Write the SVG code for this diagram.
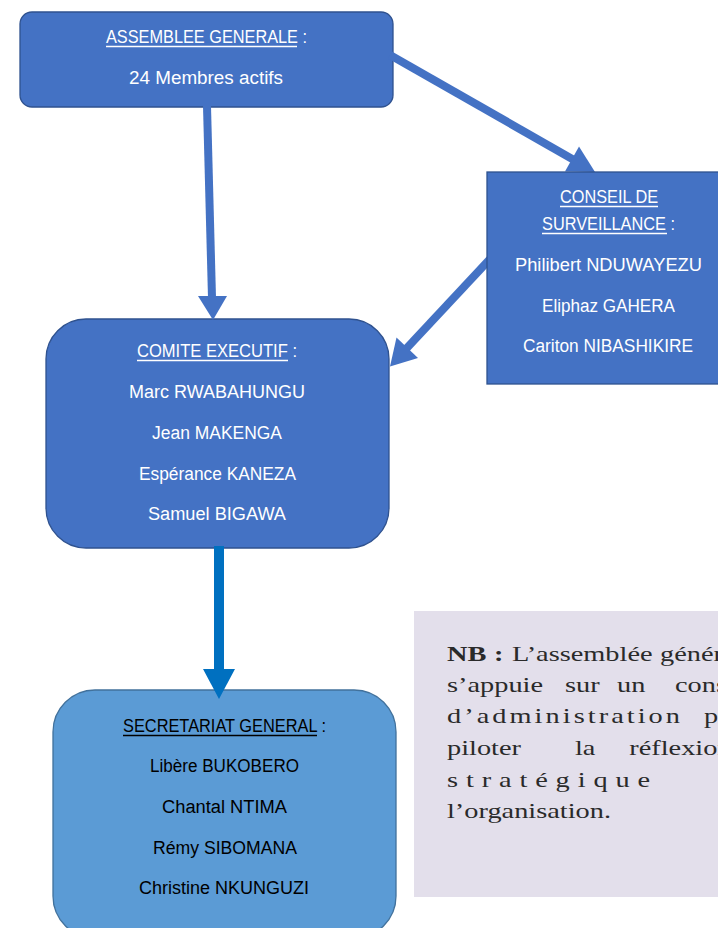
<svg xmlns="http://www.w3.org/2000/svg" width="718" height="928" viewBox="0 0 718 928">
<style>
.box{fill:#4472C4;stroke:#2F528F;stroke-width:1.3}
.box2{fill:#5B9BD5;stroke:#41719C;stroke-width:1.3}
.t{font-family:"Liberation Sans",Arial,sans-serif;font-size:18px;text-anchor:middle;fill:#ffffff}
.tb{font-family:"Liberation Sans",Arial,sans-serif;font-size:18px;text-anchor:middle;fill:#000000}
.uw{stroke:#ffffff;stroke-width:1.3}
.ub{stroke:#000000;stroke-width:1.3}
.ln{stroke:#4472C4;stroke-width:8;fill:none}
.hd{fill:#4472C4}
.nb{font-family:"Liberation Serif","Times New Roman",serif;font-size:21px;fill:#2a2a2a}
</style>
<rect width="718" height="928" fill="#ffffff"/>
<g id="assemblee">
<rect class="box" x="20" y="12" width="373" height="95" rx="12"/>
<text class="t" x="206.5" y="43" textLength="201" lengthAdjust="spacingAndGlyphs">ASSEMBLEE GENERALE :</text>
<line class="uw" x1="106" y1="46.5" x2="297" y2="46.5"/>
<text class="t" x="206" y="84" textLength="154" lengthAdjust="spacingAndGlyphs">24 Membres actifs</text>
</g>
<g id="comite">
<rect class="box" x="46" y="319" width="343" height="229" rx="40"/>
<text class="t" x="217" y="357" textLength="160" lengthAdjust="spacingAndGlyphs">COMITE EXECUTIF :</text>
<line class="uw" x1="137" y1="360.5" x2="288" y2="360.5"/>
<text class="t" x="217" y="398" textLength="176" lengthAdjust="spacingAndGlyphs">Marc RWABAHUNGU</text>
<text class="t" x="217" y="439" textLength="130" lengthAdjust="spacingAndGlyphs">Jean MAKENGA</text>
<text class="t" x="217.5" y="480" textLength="157" lengthAdjust="spacingAndGlyphs">Espérance KANEZA</text>
<text class="t" x="217" y="520" textLength="138" lengthAdjust="spacingAndGlyphs">Samuel BIGAWA</text>
</g>
<g id="secretariat">
<rect class="box2" x="53" y="690" width="343" height="248" rx="42"/>
<text class="tb" x="224.5" y="732" textLength="203" lengthAdjust="spacingAndGlyphs">SECRETARIAT GENERAL :</text>
<line class="ub" x1="123" y1="735.5" x2="317" y2="735.5"/>
<text class="tb" x="224.5" y="772" textLength="149" lengthAdjust="spacingAndGlyphs">Libère BUKOBERO</text>
<text class="tb" x="224.5" y="813" textLength="125" lengthAdjust="spacingAndGlyphs">Chantal NTIMA</text>
<text class="tb" x="225" y="854" textLength="144" lengthAdjust="spacingAndGlyphs">Rémy SIBOMANA</text>
<text class="tb" x="224" y="894" textLength="170" lengthAdjust="spacingAndGlyphs">Christine NKUNGUZI</text>
</g>
<g id="connectors">
<line class="ln" x1="207" y1="106" x2="212" y2="298"/>
<polygon class="hd" points="198,296 227,296 213,320"/>
<line class="ln" x1="390" y1="55" x2="574" y2="160"/>
<polygon class="hd" points="579,146.5 565,171.5 595,172"/>
<line class="ln" x1="490" y1="259" x2="405" y2="350"/>
<polygon class="hd" points="418,358 396.5,337.5 390,366.5"/>
<rect x="214" y="546" width="10" height="125" fill="#0070C0"/>
<polygon points="203,669 235,669 219,699" fill="#0070C0"/>
</g>
<g id="conseil">
<rect class="box" x="487" y="172" width="250" height="212"/>
<text class="t" x="609" y="203" textLength="98" lengthAdjust="spacingAndGlyphs">CONSEIL DE</text>
<line class="uw" x1="560" y1="206.5" x2="658" y2="206.5"/>
<text class="t" x="608.5" y="230" textLength="133" lengthAdjust="spacingAndGlyphs">SURVEILLANCE :</text>
<line class="uw" x1="542" y1="233.5" x2="667" y2="233.5"/>
<text class="t" x="608.5" y="271" textLength="187" lengthAdjust="spacingAndGlyphs">Philibert NDUWAYEZU</text>
<text class="t" x="608.5" y="312" textLength="133" lengthAdjust="spacingAndGlyphs">Eliphaz GAHERA</text>
<text class="t" x="608" y="352" textLength="170" lengthAdjust="spacingAndGlyphs">Cariton NIBASHIKIRE</text>
</g>
<g id="nb">
<rect x="414" y="611" width="320" height="286" fill="#E3DFEB"/>
<g transform="translate(447 0) scale(1.35 1) translate(-447 0)">
<text class="nb" y="661"><tspan x="447" font-weight="bold">NB</tspan><tspan x="481.8" font-weight="bold">:</tspan><tspan x="495.1">L’assemblée</tspan><tspan x="604.8">générale</tspan></text>
<text class="nb" y="692"><tspan x="447">s’appuie</tspan><tspan x="534.4">sur</tspan><tspan x="572.9">un</tspan><tspan x="615.9">conseil</tspan></text>
<text class="nb" y="723"><tspan x="447" textLength="172.6" lengthAdjust="spacing">d’administration</tspan><tspan x="637.4" letter-spacing="2">pour</tspan></text>
<text class="nb" y="755"><tspan x="447">piloter</tspan><tspan x="541.8">la</tspan><tspan x="582">réflexion</tspan></text>
<text class="nb" y="787"><tspan x="447" textLength="150.4" lengthAdjust="spacing">stratégique</tspan></text>
<text class="nb" y="818"><tspan x="447">l’organisation.</tspan></text>
</g>
</g>
</svg>
